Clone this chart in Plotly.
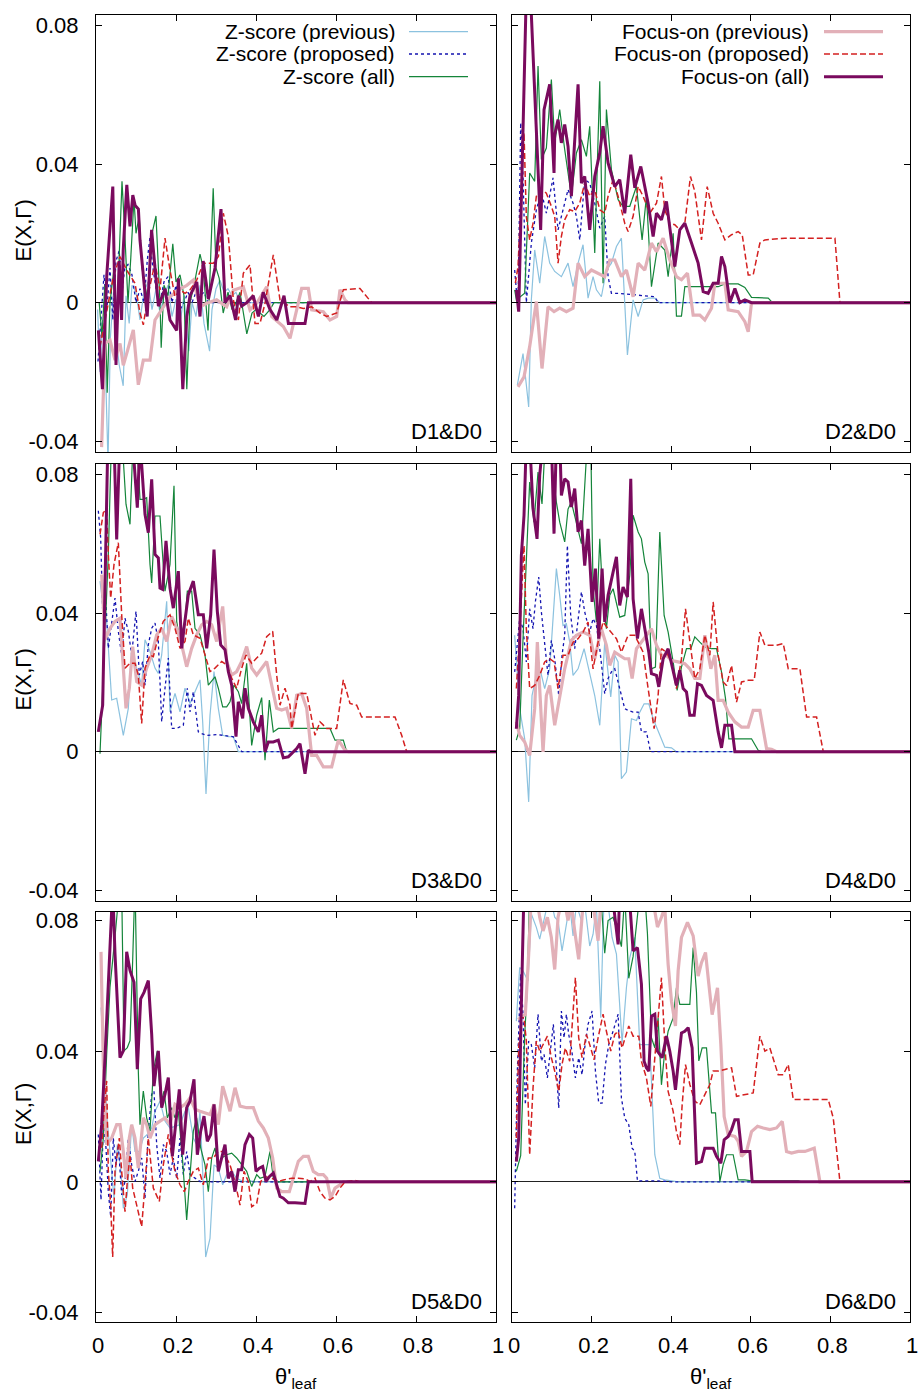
import plotly.graph_objects as go

W, H = 918, 1394

# ---------------- data: (theta'_leaf, E(X,Gamma)) ----------------
# Panel D1&D0
p1_zprev = [(0.004,-0.002),(0.01,-0.02),(0.016,-0.005),(0.022,-0.012),(0.03,-0.046),(0.036,-0.01),(0.045,0.005),(0.05,-0.01),(0.058,-0.018),(0.068,-0.024),(0.075,0.002),(0.083,-0.006),(0.09,0.005),(0.1,0.003),(0.11,-0.005),(0.12,0.003),(0.13,0.006),(0.14,-0.002),(0.15,0.004),(0.16,-0.003),(0.17,0.002),(0.18,0.005),(0.19,-0.004),(0.2,0.001),(0.21,-0.006),(0.22,0.002),(0.232,-0.014),(0.24,0.0),(0.25,-0.004),(0.26,0.005),(0.27,-0.006),(0.284,-0.014),(0.29,-0.002),(0.3,0.004),(0.31,0.0065),(0.32,0.003),(0.33,0.004),(0.34,0.002),(0.35,0.003),(0.36,0.0),(0.38,0.0),(1.0,0.0)]
p1_zprop = [(0.005,-0.017),(0.012,-0.005),(0.02,0.008),(0.027,-0.002),(0.035,0.01),(0.042,-0.005),(0.05,0.012),(0.058,0.015),(0.065,0.003),(0.072,0.01),(0.08,0.011),(0.09,0.008),(0.1,0.0),(0.11,0.004),(0.12,0.0),(0.128,0.012),(0.135,0.019),(0.14,0.012),(0.15,0.004),(0.16,0.0),(0.17,0.006),(0.18,0.0075),(0.19,0.0),(0.2,0.005),(0.21,-0.002),(0.22,0.0),(0.23,0.003),(0.24,0.0),(0.25,0.003),(0.26,0.002),(0.27,0.003),(0.28,0.0),(1.0,0.0)]
p1_zall = [(0.008,0.0),(0.015,-0.01),(0.022,0.005),(0.028,-0.026),(0.035,0.0),(0.045,0.01),(0.052,-0.005),(0.058,0.015),(0.065,0.035),(0.072,0.02),(0.08,0.0),(0.087,0.013),(0.095,0.03),(0.1,0.02),(0.108,0.025),(0.115,0.01),(0.122,0.005),(0.13,0.0),(0.14,0.02),(0.15,0.025),(0.16,0.0),(0.163,-0.013),(0.17,0.005),(0.18,0.002),(0.192,0.017),(0.2,0.006),(0.21,0.008),(0.22,0.002),(0.227,-0.025),(0.235,0.0),(0.245,0.005),(0.26,0.014),(0.268,0.01),(0.28,-0.008),(0.293,0.033),(0.3,0.01),(0.308,0.007),(0.318,-0.003),(0.33,0.003),(0.34,-0.002),(0.35,0.0),(0.36,0.003),(0.377,-0.009),(0.39,-0.003),(0.4,-0.002),(0.42,-0.004),(0.435,-0.002),(0.445,0.0),(1.0,0.0)]
p1_fprev = [(0.014,-0.0417),(0.0225,-0.0118),(0.035,-0.0108),(0.0475,-0.0166),(0.06,-0.0118),(0.0683,-0.0181),(0.0933,-0.0079),(0.1058,-0.0237),(0.1183,-0.0166),(0.135,-0.0166),(0.1475,-0.005),(0.164,-0.0021),(0.185,0.0017),(0.206,0.0037),(0.227,0.005),(0.2433,0.0065),(0.26,-0.0012),(0.2767,-0.0002),(0.3017,0.0008),(0.3267,-0.0012),(0.3433,0.0036),(0.3683,0.0046),(0.385,-0.0021),(0.4017,-0.0002),(0.4267,0.0046),(0.439,-0.004),(0.4683,-0.0069),(0.485,-0.0103),(0.5017,-0.0021),(0.5142,0.0041),(0.5308,0.0041),(0.5392,-0.0021),(0.5683,-0.0026),(0.585,-0.005),(0.6017,-0.004),(0.61,0.0037),(0.6225,0.0008),(0.63,0.0),(1.0,0.0)]
p1_fprop = [(0.01,-0.0127),(0.0183,-0.0079),(0.0308,0.0),(0.0433,0.0075),(0.06,0.0133),(0.0767,0.0094),(0.0975,0.0056),(0.11,-0.003),(0.1183,-0.0064),(0.1308,0.0027),(0.1475,0.0114),(0.16,0.0037),(0.1725,0.0186),(0.185,0.0094),(0.1975,0.0017),(0.21,0.0037),(0.2225,0.0027),(0.235,0.0037),(0.2517,0.0065),(0.2683,0.0114),(0.2933,0.0114),(0.306,0.0133),(0.3183,0.0258),(0.331,0.019),(0.3433,0.0008),(0.356,-0.005),(0.3683,0.0085),(0.385,0.0109),(0.3975,-0.006),(0.41,-0.006),(0.4225,-0.0002),(0.4433,0.0138),(0.46,0.0008),(0.485,-0.0012),(0.5017,-0.0012),(0.5183,-0.0017),(0.5392,-0.0012),(0.56,-0.003),(0.5767,-0.004),(0.6017,-0.003),(0.6183,0.0037),(0.66,0.0041),(0.6892,0.0),(1.0,0.0)]
p1_fall = [(0.006,-0.008),(0.016,-0.025),(0.027,0.008),(0.042,0.0335),(0.05,-0.018),(0.058,0.012),(0.064,-0.005),(0.068,0.015),(0.077,0.034),(0.085,0.022),(0.092,0.031),(0.098,0.028),(0.106,0.027),(0.11,0.018),(0.128,-0.004),(0.139,0.021),(0.156,-0.001),(0.1725,0.004),(0.185,-0.005),(0.2017,-0.008),(0.206,0.007),(0.217,-0.025),(0.227,-0.004),(0.235,0.002),(0.252,0.006),(0.26,-0.004),(0.268,0.012),(0.281,0.001),(0.2975,0.01),(0.3125,0.027),(0.3225,0.0),(0.335,0.002),(0.349,-0.005),(0.356,0.002),(0.364,-0.001),(0.377,0.0),(0.393,0.002),(0.406,-0.004),(0.418,0.003),(0.435,-0.002),(0.452,-0.005),(0.47,0.002),(0.481,-0.006),(0.5225,-0.006),(0.531,0.0),(1.0,0.0)]

# Panel D2&D0
p2_zprev = [(0.0134,-0.0238),(0.0277,-0.0147),(0.0419,-0.0301),(0.0486,0.0008),(0.057,0.0152),(0.0696,0.0056),(0.0821,0.0191),(0.0947,0.0114),(0.1073,0.009),(0.1241,0.0075),(0.1408,0.0114),(0.1534,0.0046),(0.166,0.0114),(0.1785,0.0167),(0.1911,0.0013),(0.2037,0.0075),(0.2121,0.0037),(0.2246,0.0017),(0.2372,0.0094),(0.2498,0.0114),(0.2624,0.0162),(0.2749,0.0186),(0.29,-0.0151),(0.3043,0.0008),(0.3169,-0.004),(0.3294,0.0008),(0.342,0.0013),(0.3588,0.0013),(0.3713,0.0),(1.0,0.0)]
p2_zprop = [(0.0067,0.0094),(0.0151,-0.0021),(0.0218,0.0519),(0.0277,0.0364),(0.036,0.0),(0.0486,0.0172),(0.0612,0.0268),(0.0738,0.0321),(0.0863,0.0258),(0.1031,0.036),(0.1157,0.021),(0.1282,0.0268),(0.1408,0.0326),(0.1534,0.0287),(0.1618,0.0249),(0.1702,0.0181),(0.1827,0.0355),(0.1953,0.0345),(0.2079,0.0287),(0.2205,0.0215),(0.233,0.0249),(0.2414,0.0075),(0.2498,0.0027),(0.2666,0.0027),(0.3169,0.0022),(0.3588,0.0017),(0.3671,0.0),(1.0,0.0)]
p2_zall = [(0.0067,0.0037),(0.011,0.0008),(0.0318,0.0027),(0.0444,0.0374),(0.057,0.035),(0.0654,0.0683),(0.0738,0.0413),(0.0863,0.0446),(0.0989,0.0644),(0.1073,0.0461),(0.1199,0.0557),(0.1324,0.0442),(0.1492,0.0307),(0.1618,0.0432),(0.1744,0.047),(0.1869,0.0422),(0.1953,0.0509),(0.2079,0.0143),(0.2205,0.0639),(0.2288,0.0056),(0.2372,0.0557),(0.2498,0.0384),(0.2666,0.0297),(0.2791,0.0278),(0.2959,0.0278),(0.3127,0.0335),(0.3269,0.0181),(0.3378,0.0307),(0.3504,0.0046),(0.3671,0.0172),(0.3839,0.0152),(0.3923,0.0075),(0.4049,0.02),(0.4132,-0.0039),(0.4258,-0.0039),(0.4342,0.0046),(0.4761,0.0046),(0.518,0.0046),(0.5348,0.0054),(0.5683,0.0054),(0.5851,0.0044),(0.6018,0.0015),(0.6438,0.0013),(0.6521,0.0003),(0.75,0.0),(1.0,0.0)]
p2_fprev = [(0.0151,-0.0243),(0.0302,-0.0214),(0.0444,-0.0127),(0.0612,0.0003),(0.0754,-0.019),(0.0905,-0.0012),(0.1056,-0.0026),(0.1199,-0.0016),(0.1366,-0.0026),(0.1534,-0.0016),(0.166,0.0114),(0.1827,0.0075),(0.1995,0.0094),(0.2163,0.0085),(0.233,0.0075),(0.2456,0.0123),(0.2582,0.0123),(0.2749,0.0075),(0.2875,0.0094),(0.3043,0.0017),(0.3169,0.0114),(0.3336,0.0094),(0.3504,0.0172),(0.363,0.0147),(0.3797,0.0186),(0.3965,0.0123),(0.4132,0.0075),(0.4258,0.0066),(0.4409,0.0085),(0.4552,-0.0036),(0.4719,-0.0036),(0.4845,-0.005),(0.5013,-0.0016),(0.5096,0.0056),(0.5348,0.0056),(0.5432,-0.0021),(0.5683,-0.0026),(0.5851,-0.0055),(0.5935,-0.0084),(0.6018,0.0),(1.0,0.0)]
p2_fprop = [(0.0084,0.0056),(0.0151,0.0104),(0.0235,0.0316),(0.0302,0.049),(0.036,0.0249),(0.0444,0.0181),(0.0528,0.0229),(0.0612,0.0307),(0.0738,0.0326),(0.0863,0.0316),(0.0989,0.0278),(0.1073,0.0249),(0.1157,0.0114),(0.1241,0.0191),(0.1324,0.0239),(0.145,0.0268),(0.1576,0.0263),(0.1702,0.0287),(0.1827,0.0345),(0.1953,0.0307),(0.2079,0.0326),(0.2205,0.0268),(0.233,0.0258),(0.2414,0.0307),(0.254,0.0355),(0.2666,0.0307),(0.2833,0.0229),(0.2917,0.0205),(0.3043,0.0249),(0.3169,0.0335),(0.3294,0.0307),(0.3462,0.0258),(0.363,0.0287),(0.3755,0.0364),(0.3839,0.0268),(0.3965,0.0229),(0.409,0.0225),(0.4216,0.021),(0.4342,0.0229),(0.4484,0.0364),(0.4593,0.0321),(0.4761,0.0181),(0.4904,0.0335),(0.5054,0.0258),(0.518,0.0229),(0.5348,0.0181),(0.5516,0.0196),(0.5683,0.0205),(0.5784,0.0196),(0.5935,0.008),(0.606,0.008),(0.6228,0.0172),(0.6354,0.0181),(0.6857,0.0186),(0.8114,0.0186),(0.824,0.0),(1.0,0.0)]
p2_fall = [(0.011,0.0037),(0.0168,-0.0026),(0.036,0.09),(0.046,0.09),(0.072,0.021),(0.0805,0.0557),(0.0947,0.063),(0.1056,0.0374),(0.1073,0.0485),(0.1157,0.0528),(0.124,0.0461),(0.1324,0.0514),(0.1408,0.0451),(0.1492,0.0307),(0.166,0.063),(0.1744,0.0345),(0.1827,0.0364),(0.1953,0.021),(0.2079,0.0364),(0.2205,0.0432),(0.2288,0.0509),(0.2414,0.0403),(0.2582,0.0335),(0.2707,0.0355),(0.2833,0.0258),(0.2984,0.0427),(0.3085,0.0331),(0.3236,0.0393),(0.342,0.0287),(0.3546,0.0191),(0.363,0.0258),(0.3755,0.0239),(0.3881,0.0292),(0.3965,0.022),(0.409,0.0104),(0.4216,0.021),(0.4342,0.0229),(0.451,0.0172),(0.4677,0.0114),(0.4803,0.0032),(0.4929,0.0027),(0.5054,0.0056),(0.518,0.0056),(0.5264,0.0133),(0.5348,0.0104),(0.5474,0.0),(0.56,0.0041),(0.5725,0.0),(0.5851,0.0008),(0.6018,0.0),(1.0,0.0)]

# Panel D3&D0
p3_zprev = [(0.01,0.0492),(0.0183,0.0414),(0.0267,0.0376),(0.0392,0.0149),(0.0517,0.0154),(0.0683,0.0047),(0.0808,0.0125),(0.0892,0.0298),(0.1017,0.0241),(0.1142,0.0192),(0.1225,0.0323),(0.135,0.0289),(0.1475,0.0241),(0.1558,0.0226),(0.1642,0.0279),(0.1767,0.0434),(0.185,0.0115),(0.1975,0.0168),(0.21,0.0115),(0.2225,0.0183),(0.235,0.0139),(0.2475,0.0173),(0.26,0.0207),(0.2667,0.0086),(0.275,-0.0122),(0.285,0.0105),(0.295,0.0231),(0.3058,0.0125),(0.3167,0.0047),(0.3308,0.0043),(0.3433,0.0043),(0.3558,0.0),(1.0,0.0)]
p3_zprop = [(0.0058,0.0695),(0.0117,0.0617),(0.0167,0.0405),(0.0225,0.0482),(0.0308,0.0298),(0.0392,0.0376),(0.0475,0.0443),(0.0558,0.0347),(0.0642,0.0279),(0.0725,0.0385),(0.0808,0.0347),(0.0892,0.0279),(0.1,0.0405),(0.1083,0.0221),(0.1167,0.026),(0.1225,0.0192),(0.1308,0.0308),(0.1392,0.0356),(0.1475,0.0371),(0.1558,0.0318),(0.1642,0.0086),(0.1725,0.0183),(0.1808,0.027),(0.1892,0.0067),(0.2017,0.0067),(0.2183,0.0076),(0.2283,0.0183),(0.235,0.0115),(0.2433,0.0173),(0.2558,0.0057),(0.2642,0.0052),(0.2767,0.0047),(0.3017,0.0049),(0.3183,0.0047),(0.3433,0.0043),(0.3642,0.0),(1.0,0.0)]
p3_zall = [(0.01,-0.0006),(0.0225,0.0318),(0.0308,0.0569),(0.0392,0.092),(0.0517,0.09),(0.0642,0.092),(0.075,0.0714),(0.085,0.0656),(0.0933,0.092),(0.1017,0.09),(0.11,0.0728),(0.1183,0.0728),(0.1267,0.0733),(0.135,0.054),(0.1392,0.0487),(0.1475,0.068),(0.16,0.068),(0.1725,0.0463),(0.185,0.054),(0.195,0.0767),(0.2017,0.0376),(0.21,0.0318),(0.2225,0.0376),(0.2283,0.0463),(0.2392,0.0463),(0.2475,0.0356),(0.26,0.0337),(0.2725,0.0279),(0.2808,0.0192),(0.2975,0.0216),(0.3058,0.0183),(0.3167,0.0129),(0.3267,0.0129),(0.335,0.0144),(0.345,0.0192),(0.3558,0.0173),(0.3642,0.0139),(0.3767,0.0255),(0.3892,0.0018),(0.4017,0.0105),(0.4142,0.0156),(0.4225,-0.0025),(0.4333,0.0149),(0.4433,0.0057),(0.4558,0.0067),(0.5267,0.0067),(0.585,0.0067),(0.5975,0.0033),(0.6183,0.0033),(0.6267,0.0),(1.0,0.0)]
p3_fprev = [(0.0142,0.0511),(0.0225,0.0323),(0.035,0.0356),(0.0475,0.0376),(0.06,0.0385),(0.0683,0.0241),(0.075,0.0125),(0.0833,0.0183),(0.0917,0.0303),(0.1017,0.0202),(0.1142,0.0192),(0.1267,0.0241),(0.1392,0.0279),(0.1517,0.0337),(0.1642,0.0356),(0.1767,0.0318),(0.1892,0.039),(0.2017,0.0356),(0.2142,0.0308),(0.2267,0.0245),(0.2392,0.0298),(0.2517,0.0337),(0.2642,0.0366),(0.2767,0.0376),(0.2892,0.0366),(0.3017,0.0318),(0.3167,0.0419),(0.3267,0.026),(0.3392,0.0221),(0.3517,0.0231),(0.3642,0.026),(0.3767,0.0303),(0.3892,0.0241),(0.4017,0.0221),(0.4142,0.0241),(0.4267,0.026),(0.4392,0.0192),(0.4517,0.0125),(0.4642,0.012),(0.4767,0.0125),(0.4892,0.0067),(0.5017,0.0163),(0.5142,0.0168),(0.5267,0.0125),(0.5392,-0.0011),(0.5517,-0.0011),(0.5683,-0.0044),(0.5892,-0.0044),(0.6058,0.0033),(0.6225,0.0004),(0.6308,0.0),(1.0,0.0)]
p3_fprop = [(0.01,0.0627),(0.0183,0.069),(0.0267,0.0699),(0.0308,0.0569),(0.0367,0.0443),(0.045,0.054),(0.0558,0.0603),(0.0642,0.0395),(0.0725,0.0241),(0.085,0.0255),(0.0975,0.0255),(0.1058,0.0221),(0.1142,0.0081),(0.1225,0.0241),(0.135,0.0279),(0.1433,0.0274),(0.1558,0.0332),(0.1683,0.0376),(0.185,0.0395),(0.1975,0.0356),(0.21,0.0298),(0.2225,0.0318),(0.2308,0.0385),(0.2433,0.0337),(0.26,0.0327),(0.2725,0.0279),(0.285,0.0231),(0.2975,0.0241),(0.3142,0.026),(0.3267,0.025),(0.3392,0.0212),(0.3517,0.0183),(0.3642,0.0241),(0.375,0.0279),(0.3892,0.0255),(0.4017,0.027),(0.4142,0.0284),(0.4267,0.0332),(0.4417,0.0347),(0.4517,0.0221),(0.46,0.0134),(0.4725,0.0183),(0.485,0.0134),(0.4892,0.0067),(0.5058,0.0168),(0.5267,0.0168),(0.5392,0.0096),(0.5475,0.0047),(0.56,0.0086),(0.5767,0.0067),(0.6017,0.0067),(0.6183,0.0207),(0.635,0.0139),(0.6517,0.0134),(0.6642,0.01),(0.7017,0.01),(0.7475,0.01),(0.7642,0.0047),(0.7767,0.0),(1.0,0.0)]
p3_fall = [(0.0058,0.0057),(0.0167,0.0134),(0.03,0.092),(0.045,0.09),(0.0517,0.0612),(0.06,0.092),(0.075,0.09),(0.09,0.092),(0.1033,0.0704),(0.11,0.09),(0.1225,0.0685),(0.1308,0.0632),(0.1392,0.0786),(0.1475,0.0569),(0.1558,0.0559),(0.16,0.0472),(0.1667,0.0468),(0.175,0.0608),(0.185,0.0472),(0.1933,0.0414),(0.2058,0.0521),(0.2142,0.0298),(0.22,0.0356),(0.2308,0.0453),(0.2433,0.0492),(0.2558,0.0395),(0.2683,0.0395),(0.2767,0.0298),(0.2867,0.0395),(0.295,0.0583),(0.3033,0.0405),(0.3117,0.0308),(0.3225,0.0294),(0.3308,0.0231),(0.3392,0.0192),(0.35,0.0043),(0.3558,0.0144),(0.3667,0.0096),(0.3725,0.0183),(0.3808,0.0125),(0.3933,0.0086),(0.4058,0.0057),(0.4142,0.0105),(0.4225,-0.0001),(0.4308,0.0028),(0.4433,0.0028),(0.4558,0.0033),(0.4683,-0.0018),(0.4808,-0.0015),(0.4892,-0.0006),(0.5017,0.0009),(0.51,0.0023),(0.5225,-0.0064),(0.5308,0.0004),(0.535,0.0),(1.0,0.0)]

# Panel D4&D0
p4_zprev = [(0.0067,0.0336),(0.0193,0.0124),(0.0319,0.0037),(0.0419,-0.0145),(0.0503,0.0162),(0.0612,0.022),(0.0721,0.023),(0.0821,0.0182),(0.0947,0.0239),(0.1115,0.0528),(0.1199,0.0451),(0.1282,0.0364),(0.1366,0.0369),(0.145,0.0316),(0.1534,0.022),(0.166,0.0239),(0.1811,0.0297),(0.1953,0.023),(0.2079,0.0162),(0.2205,0.0076),(0.233,0.0316),(0.2481,0.0158),(0.2582,0.0278),(0.2666,0.0259),(0.2749,-0.0078),(0.2875,-0.0059),(0.3001,0.0095),(0.3127,0.009),(0.321,0.0114),(0.3319,0.0138),(0.3437,0.0138),(0.3546,0.0095),(0.3688,0.0057),(0.3839,0.0013),(0.4007,0.0011),(0.4132,0.0),(1.0,0.0)]
p4_zprop = [(0.0067,0.023),(0.0134,0.0316),(0.0193,0.0384),(0.0277,0.0355),(0.036,0.0259),(0.0444,0.0412),(0.0528,0.0355),(0.0587,0.0432),(0.0671,0.0504),(0.0738,0.0403),(0.0821,0.0316),(0.0905,0.022),(0.0989,0.0321),(0.1073,0.0268),(0.1174,0.0162),(0.1257,0.0278),(0.1324,0.0336),(0.1391,0.0595),(0.1475,0.0393),(0.1576,0.0297),(0.1643,0.0364),(0.1744,0.0461),(0.1827,0.0403),(0.1953,0.0345),(0.2037,0.0384),(0.2121,0.0364),(0.2205,0.0297),(0.233,0.0167),(0.2414,0.0211),(0.2498,0.023),(0.2582,0.0239),(0.2707,0.0182),(0.2833,0.0124),(0.2917,0.0119),(0.3043,0.0114),(0.3169,0.0114),(0.3252,0.0057),(0.3378,0.0057),(0.3479,0.0),(1.0,0.0)]
p4_zall = [(0.0109,0.0033),(0.0193,0.0066),(0.0277,0.0326),(0.036,0.0566),(0.0444,0.0778),(0.0553,0.0662),(0.0654,0.0807),(0.0754,0.0715),(0.0838,0.09),(0.0947,0.09),(0.1031,0.0797),(0.1115,0.072),(0.1199,0.0662),(0.1324,0.0605),(0.1408,0.07),(0.1492,0.072),(0.1618,0.0662),(0.1744,0.06),(0.1869,0.085),(0.1978,0.09),(0.2037,0.047),(0.2121,0.0374),(0.2205,0.0614),(0.2288,0.0432),(0.2372,0.0355),(0.2456,0.0451),(0.254,0.047),(0.2707,0.0388),(0.2833,0.0393),(0.2959,0.0509),(0.3043,0.0682),(0.3169,0.0634),(0.3252,0.0614),(0.3336,0.0547),(0.342,0.0513),(0.3504,0.0239),(0.3604,0.0244),(0.3713,0.0634),(0.3822,0.0393),(0.3923,0.0345),(0.4049,0.0259),(0.4149,0.0177),(0.4258,0.0244),(0.4384,0.0297),(0.4493,0.0297),(0.4593,0.0331),(0.4719,0.0316),(0.4845,0.0302),(0.5013,0.0297),(0.5138,0.0297),(0.5264,0.023),(0.5365,0.0153),(0.5448,0.0037),(0.5683,0.0037),(0.6018,0.0037),(0.6186,0.0004),(0.627,0.0),(1.0,0.0)]
p4_fprev = [(0.0109,0.0086),(0.0193,0.0047),(0.0319,0.0028),(0.0444,-0.0011),(0.057,0.0124),(0.0637,0.0316),(0.0696,0.0182),(0.078,-0.0001),(0.0863,0.0162),(0.0947,0.0191),(0.1073,0.0076),(0.1199,0.0162),(0.1324,0.0239),(0.1492,0.0321),(0.1618,0.0336),(0.1785,0.0345),(0.1953,0.0336),(0.2079,0.0268),(0.2246,0.0355),(0.2372,0.0307),(0.2456,0.0249),(0.2582,0.0287),(0.2707,0.0278),(0.2833,0.0268),(0.2934,0.0268),(0.3018,0.0211),(0.3127,0.0297),(0.3252,0.0316),(0.3378,0.0336),(0.3504,0.0355),(0.363,0.0307),(0.3755,0.0278),(0.3881,0.0278),(0.4007,0.0263),(0.4174,0.0259),(0.4342,0.0254),(0.4468,0.0239),(0.4593,0.0211),(0.4719,0.0211),(0.4845,0.0336),(0.4996,0.0239),(0.5096,0.0278),(0.518,0.0148),(0.5306,0.0148),(0.5432,0.0114),(0.5599,0.0086),(0.5767,0.0071),(0.5935,0.0071),(0.606,0.0119),(0.6228,0.0119),(0.6396,0.0009),(0.6521,0.0007),(0.6647,0.0),(1.0,0.0)]
p4_fprop = [(0.0109,0.0182),(0.0193,0.0345),(0.0302,0.0595),(0.036,0.0355),(0.0444,0.0182),(0.057,0.0191),(0.0696,0.022),(0.0821,0.0259),(0.0947,0.0268),(0.1056,0.0259),(0.1157,0.0182),(0.1282,0.0278),(0.1408,0.0278),(0.1534,0.0316),(0.166,0.0326),(0.1785,0.0345),(0.1911,0.0374),(0.2037,0.0239),(0.2163,0.0316),(0.2288,0.0374),(0.2414,0.0355),(0.254,0.0336),(0.2624,0.0326),(0.2749,0.0287),(0.2917,0.0336),(0.3085,0.0336),(0.3169,0.0316),(0.3294,0.0287),(0.342,0.0182),(0.3571,0.0066),(0.3671,0.0162),(0.3755,0.0297),(0.3881,0.0287),(0.4007,0.0259),(0.4132,0.0182),(0.4258,0.0268),(0.4359,0.0412),(0.4468,0.0316),(0.4593,0.0211),(0.4719,0.0239),(0.4845,0.0336),(0.4971,0.0278),(0.5054,0.0432),(0.518,0.0278),(0.5306,0.0201),(0.539,0.0191),(0.5516,0.0249),(0.5641,0.0143),(0.5767,0.0201),(0.5935,0.0206),(0.6086,0.0206),(0.6228,0.0345),(0.6354,0.0307),(0.6521,0.0307),(0.6647,0.0307),(0.6815,0.0312),(0.6941,0.0239),(0.7108,0.0239),(0.7234,0.0239),(0.7402,0.01),(0.7527,0.01),(0.7653,0.01),(0.7821,0.0),(1.0,0.0)]
p4_fall = [(0.0109,0.0066),(0.0168,0.0163),(0.0235,0.0566),(0.0302,0.0682),(0.036,0.09),(0.0444,0.09),(0.0528,0.0701),(0.0629,0.0614),(0.0696,0.0797),(0.078,0.09),(0.0863,0.09),(0.0989,0.09),(0.1056,0.0629),(0.1115,0.09),(0.1199,0.09),(0.1241,0.0739),(0.1324,0.0787),(0.1408,0.0778),(0.1492,0.0706),(0.1576,0.0759),(0.166,0.0634),(0.1744,0.0667),(0.1827,0.0537),(0.1911,0.0643),(0.2012,0.0432),(0.2096,0.0528),(0.2179,0.0326),(0.2263,0.0528),(0.233,0.0374),(0.2414,0.0451),(0.254,0.0518),(0.2624,0.0562),(0.2707,0.0422),(0.2791,0.0475),(0.29,0.0446),(0.2984,0.0787),(0.3043,0.0441),(0.3152,0.0326),(0.3252,0.0412),(0.3353,0.0345),(0.3437,0.0287),(0.3504,0.0225),(0.363,0.022),(0.3688,0.0187),(0.3797,0.0268),(0.3923,0.0297),(0.4049,0.023),(0.4132,0.0191),(0.4216,0.0235),(0.43,0.0182),(0.4384,0.0172),(0.4468,0.0105),(0.4577,0.0105),(0.4661,0.0196),(0.4761,0.0191),(0.4887,0.0162),(0.5054,0.0148),(0.518,0.0057),(0.5264,0.0011),(0.5348,0.0076),(0.5516,0.0076),(0.56,0.0),(1.0,0.0)]

# Panel D5&D0
p5_zprev = [(0.0125,0.0534),(0.02,0.0391),(0.0283,0.0186),(0.0367,0.0073),(0.045,-0.005),(0.0533,0.0114),(0.0617,0.0042),(0.0683,-0.0081),(0.0783,-0.004),(0.0892,0.0175),(0.0975,0.0093),(0.1083,0.0093),(0.1183,0.0134),(0.1283,0.0145),(0.1392,0.0165),(0.1475,0.0216),(0.16,0.0247),(0.1725,0.0186),(0.185,0.0165),(0.1975,0.017),(0.21,0.0175),(0.2225,0.0216),(0.2308,0.0227),(0.2433,0.0134),(0.2517,0.0114),(0.26,0.0216),(0.2667,0.0032),(0.2742,-0.023),(0.285,-0.0173),(0.295,0.0052),(0.3058,0.0042),(0.3167,-0.0009),(0.3267,0.0022),(0.3392,0.0032),(0.3517,0.0011),(0.3683,0.0001),(0.385,0.0003),(0.4017,0.0),(1.0,0.0)]
p5_zprop = [(0.0058,0.0145),(0.0125,-0.0055),(0.0183,0.0175),(0.025,0.0104),(0.0308,-0.003),(0.0367,-0.0107),(0.0433,0.0134),(0.05,0.0052),(0.0558,0.0114),(0.0642,-0.004),(0.0725,0.0001),(0.0808,0.0134),(0.0892,0.0052),(0.0975,0.0001),(0.1058,0.0032),(0.1142,0.0073),(0.1225,-0.005),(0.1308,0.0155),(0.1392,0.0268),(0.145,0.0278),(0.1517,0.0114),(0.16,0.0011),(0.1683,0.0114),(0.1767,0.0093),(0.185,0.0022),(0.1933,0.0073),(0.2017,0.0011),(0.21,0.0134),(0.2183,0.0022),(0.2267,0.0093),(0.235,0.0022),(0.2475,0.0011),(0.26,0.0001),(0.28,0.0),(1.0,0.0)]
p5_zall = [(0.01,0.0032),(0.0183,0.0134),(0.0267,0.0391),(0.035,0.0596),(0.0475,0.075),(0.06,0.092),(0.0642,0.09),(0.07,0.0401),(0.0783,0.0411),(0.085,0.0432),(0.0917,0.0678),(0.0975,0.092),(0.1058,0.0339),(0.11,0.0175),(0.1183,0.0278),(0.1267,0.0196),(0.135,0.0155),(0.1433,0.0339),(0.1533,0.0401),(0.1617,0.0237),(0.17,0.0278),(0.1783,0.0196),(0.1892,0.0227),(0.1975,0.0196),(0.2058,0.0216),(0.2167,0.0063),(0.2267,-0.0117),(0.235,0.0022),(0.2433,0.0155),(0.2517,0.0196),(0.2617,0.0104),(0.2725,0.0052),(0.2808,-0.003),(0.2892,0.0073),(0.2975,0.0104),(0.3058,0.0042),(0.3142,0.0073),(0.3267,0.0083),(0.3392,0.0088),(0.3517,0.0073),(0.3642,0.0052),(0.3767,0.0032),(0.3892,-0.0014),(0.4017,0.0022),(0.41,0.0011),(0.4225,0.0016),(0.435,0.0093),(0.4433,0.0011),(0.4517,0.0),(1.0,0.0)]
p5_fprev = [(0.0125,0.0704),(0.0183,0.036),(0.0267,0.0114),(0.0392,0.0134),(0.0517,0.0175),(0.06,0.0175),(0.0683,0.0093),(0.075,0.0011),(0.0833,0.0134),(0.0892,0.0175),(0.0975,0.0134),(0.1058,0.0042),(0.1183,0.0196),(0.1267,0.0175),(0.135,0.0134),(0.1475,0.0175),(0.16,0.0186),(0.1725,0.0196),(0.185,0.0175),(0.1975,0.0237),(0.21,0.0227),(0.2225,0.0237),(0.235,0.0257),(0.2475,0.0222),(0.26,0.0216),(0.2725,0.0211),(0.285,0.0206),(0.295,0.0237),(0.3058,0.0175),(0.3167,0.0293),(0.3267,0.0247),(0.335,0.0216),(0.3475,0.0288),(0.36,0.0232),(0.3767,0.0227),(0.3933,0.0227),(0.4058,0.0186),(0.4183,0.0165),(0.4308,0.0134),(0.4417,0.0073),(0.4517,-0.0019),(0.4642,-0.003),(0.4833,-0.003),(0.495,0.0022),(0.5058,0.0063),(0.5183,0.0078),(0.5308,0.0078),(0.5433,0.0032),(0.5558,0.0022),(0.5683,0.0022),(0.5767,0.0011),(0.5867,-0.005),(0.5975,-0.0019),(0.61,-0.0009),(0.6183,0.0),(1.0,0.0)]
p5_fprop = [(0.0142,0.0104),(0.02,0.0216),(0.0267,0.0309),(0.0308,0.0032),(0.0367,-0.0071),(0.0417,-0.023),(0.0475,0.0032),(0.0583,0.0134),(0.0642,0.0032),(0.0725,-0.0091),(0.0783,0.0001),(0.085,0.0083),(0.0917,-0.0019),(0.1017,-0.0071),(0.1142,-0.0137),(0.1225,-0.0009),(0.1308,0.0134),(0.1433,-0.0019),(0.1583,-0.006),(0.1683,0.0052),(0.1808,0.0145),(0.1892,0.0083),(0.1975,0.0032),(0.21,-0.0009),(0.2208,-0.003),(0.2308,0.0001),(0.2433,0.0032),(0.2558,0.0042),(0.2683,-0.0009),(0.2808,0.0073),(0.2933,0.0073),(0.3058,0.0093),(0.3167,0.0093),(0.3267,0.0073),(0.335,0.0052),(0.3475,0.0001),(0.36,-0.0071),(0.37,0.0032),(0.3808,0.0001),(0.3892,-0.0076),(0.4017,-0.0066),(0.4117,0.0001),(0.4225,0.0016),(0.4392,0.0011),(0.4558,0.0001),(0.4683,0.0006),(0.4892,0.0011),(0.5058,0.0011),(0.5225,0.0009),(0.535,0.0001),(0.5475,0.0011),(0.56,-0.003),(0.5725,-0.005),(0.585,-0.0055),(0.5975,-0.0045),(0.61,-0.0019),(0.6225,0.0),(0.6475,0.0005),(0.66,0.0),(1.0,0.0)]
p5_fall = [(0.0058,0.0063),(0.0142,0.0175),(0.0225,0.038),(0.0308,0.0596),(0.0367,0.075),(0.0417,0.09),(0.0475,0.0698),(0.0533,0.0545),(0.06,0.038),(0.0683,0.0401),(0.0767,0.0704),(0.085,0.0647),(0.095,0.0611),(0.1033,0.0345),(0.1117,0.056),(0.12,0.058),(0.1308,0.0616),(0.1392,0.0452),(0.145,0.0293),(0.1558,0.0401),(0.1642,0.0227),(0.1725,0.0268),(0.1808,0.0319),(0.1908,0.0078),(0.2,0.0196),(0.2083,0.0283),(0.2167,0.0083),(0.2267,0.0227),(0.235,0.0247),(0.245,0.0314),(0.2533,0.0083),(0.2617,0.0155),(0.27,0.0201),(0.2783,0.0124),(0.2867,0.0145),(0.295,0.0237),(0.3058,0.0032),(0.3142,0.0073),(0.3225,0.0114),(0.3308,0.0011),(0.3392,0.0032),(0.3475,-0.003),(0.3558,0.0037),(0.3642,0.0037),(0.3725,0.0114),(0.3833,0.0145),(0.3917,0.0134),(0.4,0.0032),(0.4083,0.0042),(0.4167,0.0047),(0.425,0.0001),(0.4333,0.0016),(0.4433,0.0027),(0.4517,-0.0009),(0.46,-0.0045),(0.4683,-0.005),(0.4808,-0.0064),(0.4975,-0.0064),(0.5225,-0.0066),(0.5308,0.0),(1.0,0.0)]

# Panel D6&D0
p6_zprev = [(0.0109,0.0492),(0.0193,0.0656),(0.0277,0.0646),(0.0402,0.0615),(0.0486,0.082),(0.0612,0.0779),(0.0696,0.0743),(0.0821,0.081),(0.0947,0.088),(0.1073,0.081),(0.1157,0.0799),(0.1257,0.0707),(0.1366,0.0789),(0.145,0.085),(0.1534,0.0753),(0.1618,0.085),(0.1744,0.0799),(0.1827,0.085),(0.1953,0.0722),(0.2037,0.0758),(0.2121,0.085),(0.223,0.0502),(0.2313,0.088),(0.2414,0.085),(0.2515,0.0748),(0.2624,0.0697),(0.2766,0.0426),(0.2875,0.0594),(0.2959,0.0686),(0.3085,0.0748),(0.321,0.042),(0.3336,0.042),(0.3462,0.042),(0.3588,0.0083),(0.3713,0.0011),(0.3839,0.0006),(0.4007,0.0003),(0.4174,0.0),(1.0,0.0)]
p6_zprop = [(0.0067,-0.0081),(0.0134,0.0339),(0.0218,0.0635),(0.0277,0.0513),(0.0335,0.0236),(0.0419,0.0431),(0.0486,0.042),(0.057,0.0349),(0.0654,0.0513),(0.0738,0.0369),(0.0805,0.039),(0.0889,0.0318),(0.0972,0.041),(0.1039,0.0482),(0.1115,0.0349),(0.1174,0.0226),(0.1241,0.0523),(0.1308,0.0441),(0.1366,0.0513),(0.1425,0.0451),(0.1492,0.041),(0.1593,0.0318),(0.1676,0.038),(0.176,0.0328),(0.1827,0.041),(0.1911,0.0482),(0.2012,0.0523),(0.2096,0.0339),(0.2179,0.0241),(0.2263,0.0241),(0.2347,0.0359),(0.2431,0.042),(0.254,0.0461),(0.2666,0.0513),(0.2749,0.0257),(0.2833,0.0195),(0.2934,0.0175),(0.3018,0.0103),(0.3085,0.0093),(0.3152,0.0003),(0.3671,0.0003),(0.4007,0.0),(1.0,0.0)]
p6_zall = [(0.0109,0.0032),(0.0218,0.008),(0.0319,0.045),(0.0386,0.06),(0.0444,0.09),(0.0654,0.088),(0.0905,0.09),(0.1157,0.088),(0.1408,0.09),(0.166,0.088),(0.1911,0.09),(0.2079,0.088),(0.2246,0.085),(0.233,0.07),(0.2414,0.08),(0.254,0.081),(0.2666,0.076),(0.2749,0.072),(0.2833,0.088),(0.2934,0.0623),(0.3043,0.069),(0.3127,0.079),(0.321,0.088),(0.3336,0.088),(0.3403,0.076),(0.3504,0.0441),(0.3588,0.041),(0.3671,0.0502),(0.3755,0.0297),(0.3839,0.04),(0.3923,0.0461),(0.4049,0.0502),(0.4132,0.0594),(0.4216,0.0543),(0.4384,0.0543),(0.4468,0.0543),(0.4552,0.0717),(0.4635,0.058),(0.4694,0.037),(0.4778,0.041),(0.4887,0.041),(0.5013,0.0211),(0.5113,0.0211),(0.5222,0.0001),(0.5306,0.0052),(0.539,0.0083),(0.5557,0.0083),(0.5683,0.0006),(0.5851,0.0006),(0.6018,0.0003),(0.7192,0.0003),(0.7276,0.0),(1.0,0.0)]
p6_fprev = [(0.0151,0.0497),(0.0335,0.0512),(0.0419,0.0697),(0.0486,0.088),(0.0612,0.088),(0.0696,0.081),(0.078,0.0768),(0.0889,0.081),(0.0989,0.0748),(0.1073,0.065),(0.1157,0.081),(0.1282,0.088),(0.1408,0.08),(0.1492,0.085),(0.1576,0.0768),(0.1676,0.0681),(0.1785,0.085),(0.1911,0.088),(0.2037,0.085),(0.2163,0.0738),(0.2246,0.088),(0.2414,0.09),(0.2582,0.088),(0.2749,0.09),(0.2917,0.088),(0.3085,0.09),(0.3252,0.088),(0.342,0.09),(0.3546,0.086),(0.3655,0.078),(0.3755,0.081),(0.3839,0.084),(0.3923,0.0666),(0.4007,0.0553),(0.4107,0.0477),(0.4174,0.0646),(0.4258,0.0748),(0.4409,0.0794),(0.4552,0.0753),(0.4677,0.063),(0.4761,0.0671),(0.4862,0.0702),(0.4946,0.0605),(0.5029,0.0512),(0.5163,0.0594),(0.5247,0.042),(0.5331,0.02),(0.5432,0.0144),(0.5599,0.0139),(0.5683,0.0124),(0.5767,0.0078),(0.5893,0.0093),(0.6018,0.0154),(0.6169,0.017),(0.6312,0.0165),(0.6479,0.016),(0.6647,0.0165),(0.679,0.0185),(0.6898,0.0093),(0.7024,0.0088),(0.7192,0.0093),(0.736,0.0093),(0.7594,0.0103),(0.7737,0.0),(1.0,0.0)]
p6_fprop = [(0.0109,0.0134),(0.0168,0.041),(0.0235,0.0502),(0.0302,0.0502),(0.036,0.0431),(0.0444,0.0083),(0.0528,0.0287),(0.0612,0.0431),(0.0696,0.04),(0.078,0.042),(0.0889,0.0446),(0.0989,0.038),(0.1073,0.0339),(0.1174,0.0277),(0.1257,0.0359),(0.1341,0.041),(0.145,0.0369),(0.1593,0.0625),(0.1676,0.0441),(0.176,0.038),(0.1869,0.0451),(0.1953,0.042),(0.2062,0.0374),(0.2163,0.0441),(0.2288,0.0513),(0.2372,0.0461),(0.2481,0.04),(0.2582,0.0451),(0.2666,0.0461),(0.2766,0.041),(0.2858,0.0451),(0.2934,0.0477),(0.3043,0.0446),(0.3185,0.0446),(0.3252,0.0369),(0.3378,0.0318),(0.3487,0.0231),(0.3571,0.0349),(0.3655,0.0492),(0.3755,0.0625),(0.3839,0.042),(0.3923,0.0277),(0.4049,0.0216),(0.4132,0.0154),(0.4216,0.0114),(0.4275,0.0236),(0.4359,0.0359),(0.4468,0.0298),(0.4593,0.0247),(0.4719,0.0236),(0.4845,0.0267),(0.4971,0.0298),(0.5054,0.0339),(0.518,0.0339),(0.5348,0.0344),(0.5516,0.0349),(0.5641,0.0262),(0.5851,0.0267),(0.606,0.0272),(0.6228,0.0446),(0.6354,0.04),(0.6479,0.041),(0.6588,0.0369),(0.6689,0.0328),(0.6815,0.0328),(0.6941,0.0359),(0.7066,0.0252),(0.736,0.0252),(0.7695,0.0252),(0.7946,0.0252),(0.8072,0.0195),(0.824,0.0),(1.0,0.0)]
p6_fall = [(0.0109,0.0062),(0.0168,0.0134),(0.0235,0.0543),(0.0302,0.09),(0.06,0.095),(0.1,0.095),(0.15,0.095),(0.2,0.095),(0.25,0.09),(0.2666,0.0727),(0.2707,0.09),(0.2934,0.09),(0.3043,0.0707),(0.3152,0.0717),(0.3252,0.0605),(0.3319,0.0369),(0.3378,0.0349),(0.3437,0.0339),(0.3504,0.0507),(0.3588,0.0513),(0.3655,0.04),(0.3713,0.039),(0.3772,0.038),(0.3881,0.0446),(0.3965,0.04),(0.4049,0.0339),(0.4107,0.0282),(0.4191,0.038),(0.4258,0.0456),(0.4342,0.0461),(0.4426,0.0472),(0.4526,0.041),(0.4635,0.0057),(0.4761,0.0062),(0.4845,0.0103),(0.4929,0.0103),(0.5054,0.0103),(0.5138,0.0078),(0.5247,0.0057),(0.5331,0.0129),(0.5432,0.0139),(0.5516,0.016),(0.5599,0.019),(0.5683,0.019),(0.5767,0.0093),(0.5851,0.0093),(0.5977,0.0093),(0.6035,0.0),(1.0,0.0)]

PANEL_LABELS = ["D1&amp;D0", "D2&amp;D0", "D3&amp;D0", "D4&amp;D0", "D5&amp;D0", "D6&amp;D0"]
PANEL_SERIES = [
    [p1_zprev, p1_zprop, p1_zall, p1_fprev, p1_fprop, p1_fall],
    [p2_zprev, p2_zprop, p2_zall, p2_fprev, p2_fprop, p2_fall],
    [p3_zprev, p3_zprop, p3_zall, p3_fprev, p3_fprop, p3_fall],
    [p4_zprev, p4_zprop, p4_zall, p4_fprev, p4_fprop, p4_fall],
    [p5_zprev, p5_zprop, p5_zall, p5_fprev, p5_fprop, p5_fall],
    [p6_zprev, p6_zprop, p6_zall, p6_fprev, p6_fprop, p6_fall],
]
SERIES_NAMES = ["Z-score (previous)", "Z-score (proposed)", "Z-score (all)",
                "Focus-on (previous)", "Focus-on (proposed)", "Focus-on (all)"]
X_TICKS = [0, 0.2, 0.4, 0.6, 0.8, 1]
X_TICKTEXT = ["0", "0.2", "0.4", "0.6", "0.8", "1"]
Y_TICKS = [-0.04, 0, 0.04, 0.08]
Y_TICKTEXT = ["-0.04", "0", "0.04", "0.08"]

# ---------------- styling / layout ----------------
SERIES_STYLE = [
    dict(color="#8cc2df", width=1.2),
    dict(color="#1313b0", width=1.3, dash="3px,3px"),
    dict(color="#14853a", width=1.2),
    dict(color="#e2b0b8", width=3.2),
    dict(color="#d42020", width=1.5, dash="6px,3px"),
    dict(color="#7a0a5e", width=3.0),
]
FONT = "Liberation Sans, Arial, Helvetica, sans-serif"
FS = 22
XDOM = [[96 / W, 496 / W], [512 / W, 910 / W]]
YDOM = [[1 - 452 / H, 1 - 15 / H], [1 - 901 / H, 1 - 464 / H], [1 - 1322 / H, 1 - 912 / H]]
YRANGE = [[-0.0431, 0.0830], [-0.0431, 0.0830], [-0.0429, 0.0826]]

fig = go.Figure()
layout = {}
annotations = []
shapes = []

for i, series in enumerate(PANEL_SERIES):
    r, c = divmod(i, 2)
    sfx = "" if i == 0 else str(i + 1)
    for name, pts, st in zip(SERIES_NAMES, series, SERIES_STYLE):
        fig.add_trace(go.Scatter(
            x=[p[0] for p in pts], y=[p[1] for p in pts], mode="lines", name=name,
            line=st, showlegend=False, hoverinfo="skip",
            xaxis="x" + sfx, yaxis="y" + sfx))
    common = dict(showgrid=False, showline=True, linecolor="black", linewidth=1,
                  mirror="allticks", ticks="inside", ticklen=6, tickwidth=1,
                  tickcolor="black", automargin=False, ticklabeloverflow="allow",
                  tickfont=dict(family=FONT, size=FS, color="black"))
    layout["xaxis" + sfx] = dict(domain=XDOM[c], range=[0, 1], anchor="y" + sfx,
                                 tickvals=X_TICKS, ticktext=X_TICKTEXT,
                                 showticklabels=(r == 2), zeroline=False,
                                 ticklabelstandoff=4, ticklabelshift=2, **common)
    layout["yaxis" + sfx] = dict(domain=YDOM[r], range=YRANGE[r], anchor="x" + sfx,
                                 tickvals=Y_TICKS, ticktext=Y_TICKTEXT,
                                 showticklabels=(c == 0), zeroline=True,
                                 zerolinecolor="#222222", zerolinewidth=1,
                                 ticklabelstandoff=12, **common)
    # panel label (bottom-right)
    annotations.append(dict(text=PANEL_LABELS[i], xref="paper", yref="paper",
                            x=XDOM[c][1] - 12 / W, y=YDOM[r][0] + 21 / H,
                            xanchor="right", yanchor="middle", showarrow=False,
                            font=dict(family=FONT, size=FS, color="black")))

# y-axis titles
for r in range(3):
    annotations.append(dict(text="E(X,Γ)", xref="paper", yref="paper",
                            x=23 / W, y=(YDOM[r][0] + YDOM[r][1]) / 2 + 3 / H,
                            textangle=-90, xanchor="center", yanchor="middle",
                            showarrow=False, font=dict(family=FONT, size=FS, color="black")))
# x-axis titles
for c in range(2):
    annotations.append(dict(text="θ'<sub>leaf</sub>", xref="paper", yref="paper",
                            x=(XDOM[c][0] + XDOM[c][1]) / 2, y=1 - 1378 / H,
                            xanchor="center", yanchor="middle", showarrow=False,
                            font=dict(family=FONT, size=FS, color="black")))

# legends (text right-aligned, key on the right) in the top panels
LEG_ROWS = [31.7, 54.0, 76.7]
for c, (txt_right, key0, key1) in enumerate([(397, 409, 468), (811, 824, 883)]):
    for k in range(3):
        idx = 3 * c + k
        yk = 1 - LEG_ROWS[k] / H
        annotations.append(dict(text=SERIES_NAMES[idx], xref="paper", yref="paper",
                                x=txt_right / W, y=yk, xanchor="right", yanchor="middle",
                                height=21, showarrow=False,
                                font=dict(family=FONT, size=21, color="black")))
        st = SERIES_STYLE[idx]
        shapes.append(dict(type="line", xref="paper", yref="paper",
                           x0=key0 / W, x1=key1 / W, y0=yk, y1=yk,
                           line=dict(color=st["color"], width=st["width"],
                                     dash=st.get("dash", "solid"))))

fig.update_layout(width=W, height=H, margin=dict(l=0, r=0, t=0, b=0, pad=0),
                  autosize=False,
                  paper_bgcolor="white", plot_bgcolor="white", showlegend=False,
                  font=dict(family=FONT, size=FS, color="black"),
                  annotations=annotations, shapes=shapes, **layout)

PAGE_FIX = ("document.documentElement.style.margin='0';"
            "document.documentElement.style.overflow='hidden';"
            "document.body.style.margin='0';document.body.style.padding='0';"
            "document.body.style.overflow='hidden';")
fig.write_html("out.html", config={"displayModeBar": False, "responsive": False},
               post_script=PAGE_FIX)
